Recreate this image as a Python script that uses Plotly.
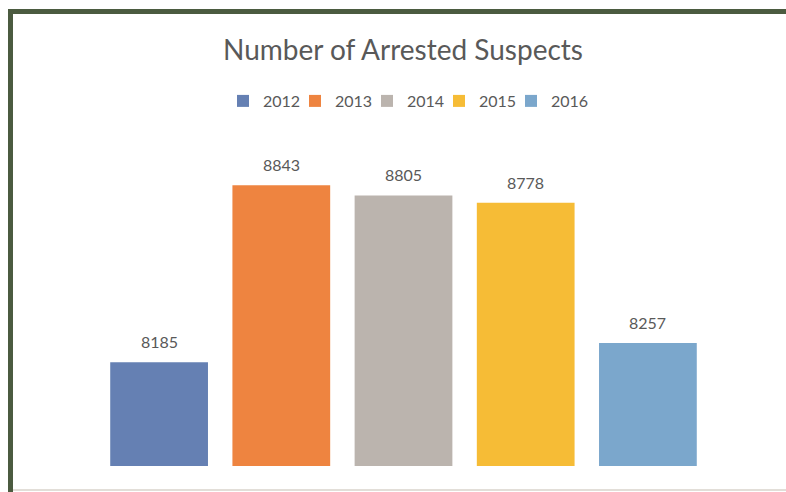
import plotly.graph_objects as go

years = ["2012", "2013", "2014", "2015", "2016"]
arrests = [8185, 8843, 8805, 8778, 8257]
colors = ["#6580B3", "#EE8440", "#BBB4AE", "#F6BC36", "#7BA7CC"]

W, H = 786, 492
L, R, T, B = 98, 77, 143, 26
pw, ph = W - L - R, H - T - B

def px(x):
    return (x - L) / pw

def py(y):
    return (H - B - y) / ph

fig = go.Figure()
for i, (yr, v, c) in enumerate(zip(years, arrests, colors)):
    fig.add_trace(go.Bar(x=[yr], y=[v], name=yr, marker=dict(color=c, line=dict(width=0)),
                         width=0.8, hoverinfo="x+y"))
    fig.add_annotation(x=i, y=v, xref="x", yref="y", text=str(v), showarrow=False,
                       yanchor="bottom", yshift=9,
                       font=dict(family="Lato", size=16, color="#595959"))

# blank legend-only spacer entry so the last legend label is not clipped
fig.add_trace(go.Bar(x=[years[0]], y=[arrests[0]], name=" ", visible="legendonly",
                     marker=dict(color="rgba(0,0,0,0)", line=dict(width=0, color="rgba(0,0,0,0)")),
                     hoverinfo="skip"))

border = "#4B5B40"
fig.add_shape(type="rect", xref="paper", yref="paper", x0=px(8), x1=px(800), y0=py(14), y1=py(9),
              fillcolor=border, line=dict(width=0), layer="above")
fig.add_shape(type="rect", xref="paper", yref="paper", x0=px(8), x1=px(13), y0=py(500), y1=py(9),
              fillcolor=border, line=dict(width=0), layer="above")
fig.add_shape(type="line", xref="paper", yref="paper", x0=px(13), x1=px(800), y0=py(490), y1=py(490),
              line=dict(color="#E2DED8", width=2), layer="above")

hidden = dict(showticklabels=False, showgrid=False, zeroline=False, showline=False, ticks="")
fig.update_layout(
    width=W, height=H,
    margin=dict(l=L, r=R, t=T, b=B),
    paper_bgcolor="white", plot_bgcolor="white",
    barmode="relative",
    showlegend=True,
    title=dict(text="Number of Arrested Suspects", x=403 / W, xanchor="center",
               y=1 - 50 / H, yanchor="middle",
               font=dict(family="Lato", size=28, color="#595959")),
    legend=dict(orientation="h", x=px(223), xanchor="left", y=py(101), yanchor="middle",
                font=dict(family="Lato", size=16, color="#595959"), itemwidth=30,
                entrywidth=27, traceorder="normal", bgcolor="rgba(0,0,0,0)",
                itemclick=False, itemdoubleclick=False),
    xaxis=dict(type="category", range=[-0.5, 4.5], **hidden),
    yaxis=dict(range=[7800, 9000], **hidden),
)

fig.write_html("out.html", config={"displayModeBar": False},
               post_script="document.body.style.margin='0';document.body.style.overflow='hidden';")
